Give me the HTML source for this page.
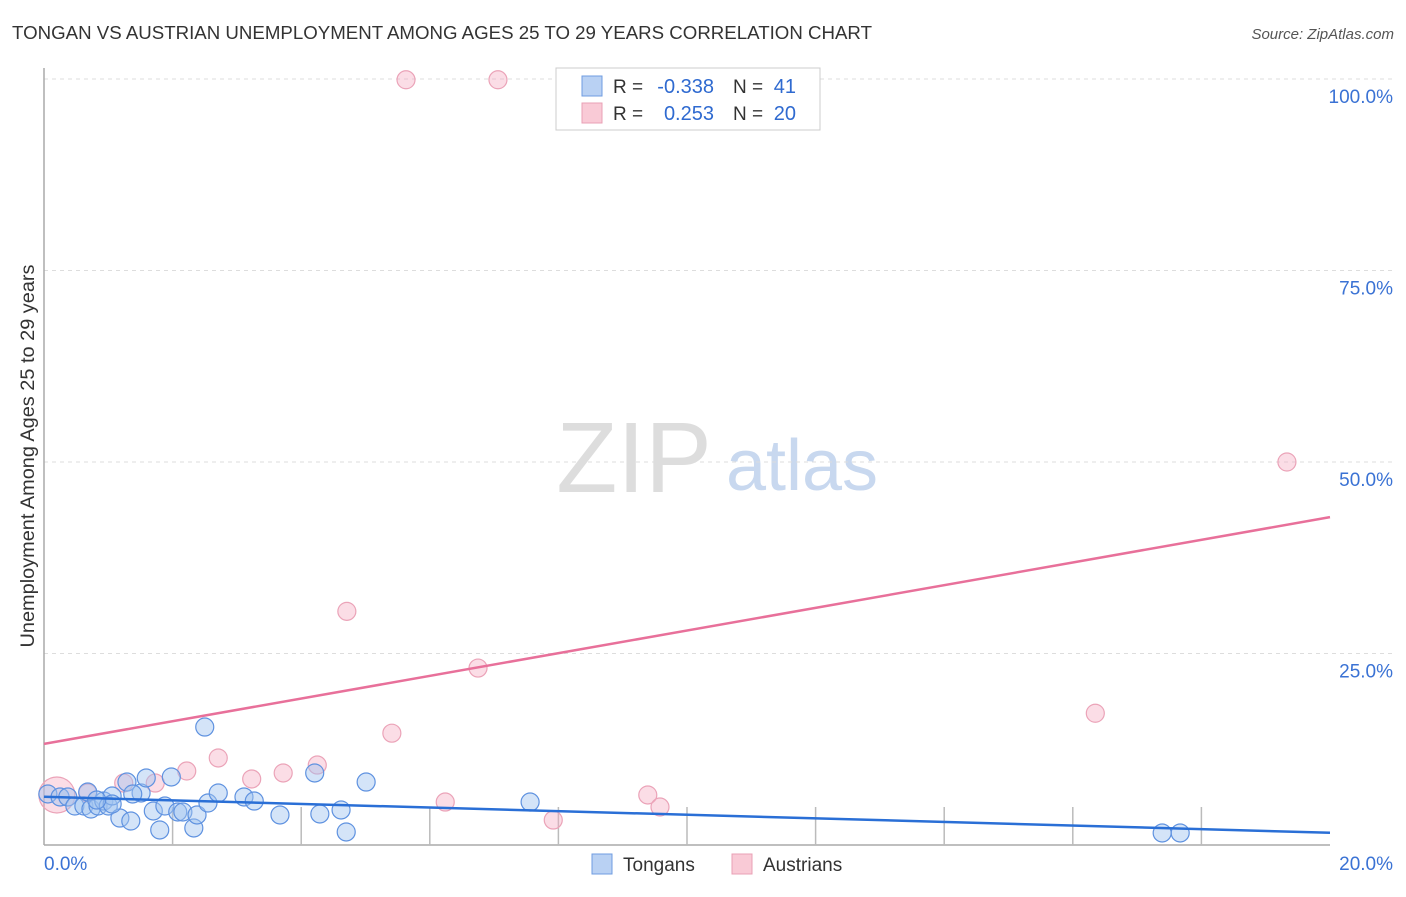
<!DOCTYPE html>
<html><head><meta charset="utf-8"><style>
body{margin:0;background:#fff;font-family:"Liberation Sans",sans-serif;}
svg text{font-family:"Liberation Sans",sans-serif;}
</style></head><body>
<svg width="1406" height="892" xmlns="http://www.w3.org/2000/svg">
<text x="12" y="39" font-size="18" fill="#333" textLength="860" lengthAdjust="spacingAndGlyphs">TONGAN VS AUSTRIAN UNEMPLOYMENT AMONG AGES 25 TO 29 YEARS CORRELATION CHART</text>
<text x="1394" y="39" font-size="15" fill="#555" font-style="italic" text-anchor="end">Source: ZipAtlas.com</text>
<g>
<text x="634" y="492" font-size="100" fill="#ddd" font-family="Liberation Serif,serif" text-anchor="middle">ZIP</text>
<text x="802" y="490" font-size="72" fill="#c8d8ef" text-anchor="middle">atlas</text>
</g>
<g id="grid"></g>
<line x1="44" y1="68" x2="44" y2="845" stroke="#aaa" stroke-width="1.5"/>
<line x1="44" y1="845" x2="1330" y2="845" stroke="#aaa" stroke-width="1.5"/>
<g id="ticks"></g>
<text x="34" y="456" font-size="19" fill="#333" text-anchor="middle" textLength="383" lengthAdjust="spacingAndGlyphs" transform="rotate(-90 34 456)">Unemployment Among Ages 25 to 29 years</text>
<g id="pts"></g>
<g id="lines"></g>
<g>
<rect x="556" y="68" width="264" height="62" fill="#fff" stroke="#ccc"/>
<rect x="582" y="76" width="20" height="20" fill="#b9d1f3" stroke="#6f9ce0"/>
<rect x="582" y="103" width="20" height="20" fill="#f9cad6" stroke="#e9a0b5"/>
<text x="613" y="93" font-size="19" fill="#333">R =</text>
<text x="714" y="93" font-size="20" fill="#2f6ad0" text-anchor="end">-0.338</text>
<text x="733" y="93" font-size="19" fill="#333">N =</text>
<text x="796" y="93" font-size="20" fill="#2f6ad0" text-anchor="end">41</text>
<text x="613" y="120" font-size="19" fill="#333">R =</text>
<text x="714" y="120" font-size="20" fill="#2f6ad0" text-anchor="end">0.253</text>
<text x="733" y="120" font-size="19" fill="#333">N =</text>
<text x="796" y="120" font-size="20" fill="#2f6ad0" text-anchor="end">20</text>
</g>
<g>
<rect x="592" y="854" width="20" height="20" fill="#b9d1f3" stroke="#6f9ce0"/>
<text x="623" y="871" font-size="19" fill="#333">Tongans</text>
<rect x="732" y="854" width="20" height="20" fill="#f9cad6" stroke="#e9a0b5"/>
<text x="763" y="871" font-size="19" fill="#333">Austrians</text>
</g>
</svg>
<script>
const yTicks=[25,50,75,100];
const yTickLabels=["25.0%","50.0%","75.0%","100.0%"];
const xTicks=[0,2,4,6,8,10,12,14,16,18,20];
const tonganX=[0.06,0.25,0.37,0.48,0.62,0.73,0.84,0.93,1.0,1.06,1.18,1.29,1.35,1.51,1.59,1.70,1.80,1.88,1.98,2.08,2.16,2.33,2.38,2.50,2.55,2.71,3.11,3.27,3.67,4.21,4.29,4.62,4.70,5.01,7.56,17.39,17.67,0.68,1.06,1.38,0.82];
const tonganY=[6.66,6.27,6.27,5.09,5.09,4.70,5.09,5.74,5.09,6.40,3.52,8.22,3.13,6.79,8.75,4.44,1.96,5.09,8.88,4.31,4.31,2.22,3.92,15.4,5.48,6.79,6.27,5.74,3.92,9.40,4.05,4.57,1.70,8.22,5.61,1.57,1.57,6.92,5.35,6.66,5.87];
const austrianX=[0.20,0.68,1.24,1.73,2.22,2.71,3.23,3.72,4.25,4.71,5.41,5.63,6.24,7.06,6.75,7.92,9.39,9.58,16.35,19.33];
const austrianY=[6.53,6.79,8.09,8.09,9.66,11.36,8.62,9.40,10.44,30.5,14.6,99.9,5.61,99.9,23.1,3.26,6.53,4.96,17.2,50.0];
const tonganTrend=[6.3,1.6];
const austrianTrend=[13.2,42.8];
const NS="http://www.w3.org/2000/svg";
const sx=v=>44+v*64.3, sy=v=>845-v*7.66;
function mk(t,a,p){const e=document.createElementNS(NS,t);for(const k in a)e.setAttribute(k,a[k]);p.appendChild(e);return e;}
const grid=document.getElementById('grid'),ticks=document.getElementById('ticks');
yTicks.forEach((v,i)=>{
 const l=mk('line',{x1:44,x2:1394,y1:sy(v),y2:sy(v),stroke:'#ddd','stroke-dasharray':'4 4'},grid);
 
 
 const t=mk('text',{x:1393,y:sy(v)+24,'font-size':19,fill:'#3a72d4','text-anchor':'end'},ticks);
 t.textContent=yTickLabels[i];
 
 
});
xTicks.forEach((v,i)=>{
 if(i>0&&i<xTicks.length-1){const l=mk('line',{x1:sx(v),x2:sx(v),y1:807,y2:845,stroke:'#bbb','stroke-width':1.5},ticks);
 
 }
});
[[0,"0.0%",'start',44],[20,"20.0%",'end',1393]].forEach(a=>{
 const t=mk('text',{x:a[3],y:870,'font-size':19,fill:'#3a72d4','text-anchor':a[2]},ticks);t.textContent=a[1];
 
 
});
const pts=document.getElementById('pts');
austrianX.forEach((x,i)=>{
 const c=mk('circle',{cx:sx(x),cy:sy(austrianY[i]),r:i==0?18:9,fill:'rgba(246,170,192,0.4)',stroke:'#eba3b8','stroke-width':1.2},pts);
 
 
});
tonganX.forEach((x,i)=>{
 const c=mk('circle',{cx:sx(x),cy:sy(tonganY[i]),r:9,fill:'rgba(160,196,240,0.45)',stroke:'#5f92e0','stroke-width':1.2},pts);
 
 
});
const lines=document.getElementById('lines');
const l1=mk('line',{x1:sx(0),y1:sy(austrianTrend[0]),x2:sx(20),y2:sy(austrianTrend[1]),stroke:'#e8709a','stroke-width':2.5},lines);


const l2=mk('line',{x1:sx(0),y1:sy(tonganTrend[0]),x2:sx(20),y2:sy(tonganTrend[1]),stroke:'#2a6fd6','stroke-width':2.5},lines);


</script>
</body></html>
